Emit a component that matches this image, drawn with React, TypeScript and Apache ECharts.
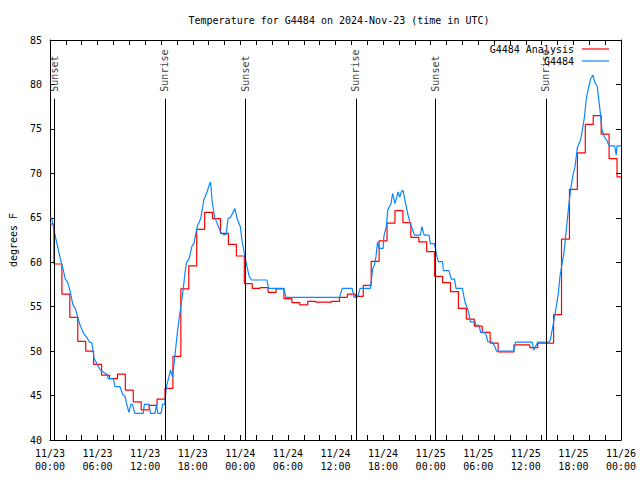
import React, { useEffect, useRef } from 'react';
import * as echarts from 'echarts';

const dayLabels = ['11/23', '11/24', '11/25', '11/26'];
const hourLabels = ['00:00', '06:00', '12:00', '18:00'];

// Hourly analysis values (hour 0 .. 72)
const analysisValues = [
  64.3, 59.8, 56.4, 53.8, 51.1, 50.0, 48.5, 47.3, 46.9, 47.4,
  45.6, 44.3, 43.4, 43.9, 44.6, 45.8, 49.4, 57.0, 59.6, 63.7,
  65.6, 64.9, 63.25, 62.0, 60.7, 57.6, 57.05, 57.15, 56.6, 57.0,
  55.9, 55.45, 55.2, 55.6, 55.5, 55.5, 55.6, 56.05, 56.4, 56.15,
  57.4, 60.1, 62.4, 64.4, 65.8, 64.45, 62.8, 62.3, 61.2, 58.4,
  57.7, 56.7, 54.8, 53.6, 52.8, 52.1, 50.9, 49.9, 49.9, 50.7,
  50.7, 50.4, 50.9, 50.9, 54.1, 62.6, 68.2, 72.3, 75.5, 76.5,
  74.4, 71.65, 69.6,
];

// Observations: hours since 11/23 00:00 and temperature
const obsHours = [
  0, 0.2, 0.54, 0.88, 1.3, 1.63, 1.92, 2.2, 2.55, 2.89,
  3.18, 3.47, 3.8, 4.22, 4.64, 5.0, 5.27, 5.56, 5.9, 6.31,
  6.8, 7.15, 7.36, 7.99, 8.2, 8.82, 9.2, 9.45, 9.66, 9.95,
  10.2, 10.4, 10.7, 11.75, 11.9, 12.5, 12.67, 13.25, 13.42, 13.6,
  14.0, 14.2, 14.45, 14.68, 15.0, 15.2, 15.43, 15.6, 15.85, 16.05,
  16.3, 16.5, 16.76, 17.0, 17.2, 17.5, 17.7, 17.9, 18.15, 18.35,
  18.6, 19.0, 19.4, 19.8, 20.15, 20.25, 20.45, 20.75, 21.07, 21.5,
  21.9, 22.2, 22.45, 22.8, 23.3, 23.6, 24.0, 24.2, 24.55, 24.84,
  25.1, 25.4, 27.35, 27.56, 29.5, 29.75, 36.5, 36.85, 38.1, 38.35,
  38.8, 39.1, 40.4, 40.7, 40.9, 41.1, 41.3, 41.5, 42.0, 42.1,
  42.4, 42.6, 43.0, 43.2, 43.5, 43.9, 44.1, 44.3, 44.5, 44.8,
  45.1, 45.4, 45.75, 45.95, 46.7, 46.9, 47.1, 47.2, 47.8, 47.95,
  48.45, 48.6, 48.8, 48.95, 49.5, 49.6, 50.3, 50.6, 51.0, 51.2,
  52.0, 52.2, 52.4, 52.65, 52.85, 53.0, 53.6, 53.7, 54.1, 54.3,
  54.8, 55.0, 55.2, 55.8, 56.1, 56.3, 58.5, 58.7, 60.8, 61.0,
  61.2, 61.5, 62.9, 63.1, 63.4, 63.7, 64.1, 64.3, 64.8, 65.1,
  65.4, 65.7, 65.95, 66.2, 66.5, 66.9, 67.2, 67.4, 67.6, 67.9,
  68.2, 68.45, 68.7, 69.0, 69.4, 69.6, 69.9, 70.2, 70.5, 71.2,
  71.4, 71.5, 72.0,
];
const obsValues = [
  65.05, 65.0, 63.4, 62.1, 60.4, 59.3, 58.1, 57.8, 56.7, 55.2,
  54.8, 53.9, 52.9, 52.0, 51.55, 51.0, 50.95, 49.2, 48.6, 47.9,
  47.6, 47.4, 46.9, 46.9, 46.0, 46.0, 45.1, 44.95, 44.1, 43.1,
  44.0, 44.0, 43.0, 43.0, 44.0, 44.0, 43.0, 43.0, 44.0, 43.0,
  43.0, 44.0, 44.0, 46.0, 47.1, 47.9, 47.1, 48.2, 50.3, 52.0,
  53.8, 55.0, 56.7, 58.6, 59.95, 60.3, 61.0, 61.8, 62.1, 63.1,
  64.1, 64.9, 67.0, 67.9, 68.9, 69.0, 66.8, 65.1, 64.4, 63.4,
  63.1, 63.1, 64.9, 65.1, 66.05, 64.9, 64.0, 62.5, 60.8, 59.5,
  58.45, 58.0, 58.0, 57.05, 57.05, 56.05, 56.05, 57.05, 57.05, 56.05,
  56.1, 57.05, 57.05, 59.3, 59.7, 60.6, 62.3, 61.55, 61.55, 62.9,
  64.0, 65.9, 66.6, 67.75, 66.6, 67.9, 67.3, 67.9, 68.1, 66.8,
  65.5, 64.4, 63.6, 63.05, 63.05, 64.0, 63.3, 63.05, 63.05, 62.1,
  62.1, 61.55, 60.6, 60.06, 60.06, 59.05, 59.05, 58.1, 58.1, 57.05,
  57.05, 56.1, 55.3, 54.8, 54.06, 53.3, 53.3, 52.9, 52.9, 52.07,
  52.07, 51.8, 51.06, 51.0, 50.5, 50.0, 50.0, 51.0, 51.0, 50.1,
  50.5, 51.0, 51.0, 51.3, 52.75, 54.25, 56.5, 58.4, 61.0, 63.6,
  66.25, 68.5, 69.8, 70.75, 72.9, 73.75, 75.25, 76.4, 78.25, 79.6,
  80.7, 81.06, 80.2, 79.8, 76.75, 74.9, 74.1, 73.75, 73.1, 73.1,
  72.06, 73.1, 73.1,
];

const eventHours = [0.54, 14.47, 24.63, 38.56, 48.6, 62.52];
const eventNames = ['Sunset', 'Sunrise', 'Sunset', 'Sunrise', 'Sunset', 'Sunrise'];

const FONT = 'DejaVu Sans Mono, Liberation Mono, monospace';
const RED = '#ff0000';
const BLUE = '#0a88ff';

export default function App() {
  const ref = useRef<HTMLDivElement>(null);
  useEffect(() => {
    document.body.style.margin = '0';
    const chart = echarts.init(ref.current!, null, { renderer: 'svg' });
    const lineTop = 78.4;
    const axisCommonX = {
      type: 'value',
      min: 0,
      max: 72,
      interval: 2,
      axisLine: { show: true, onZero: false, lineStyle: { color: '#000', width: 1 } },
      axisTick: { show: true, inside: true, length: 5, lineStyle: { color: '#000' } },
      splitLine: { show: false },
    };
    const axisCommonY = {
      type: 'value',
      min: 40,
      max: 85,
      interval: 5,
      axisLine: { show: true, onZero: false, lineStyle: { color: '#000', width: 1 } },
      axisTick: { show: true, inside: true, length: 5, lineStyle: { color: '#000' } },
      splitLine: { show: false },
    };
    const option: any = {
      animation: false,
      backgroundColor: '#ffffff',
      textStyle: { fontFamily: FONT },
      title: {
        text: 'Temperature for G4484 on 2024-Nov-23 (time in UTC)',
        left: 334,
        top: 10,
        textAlign: 'center',
        textStyle: { fontSize: 10, fontWeight: 'normal', color: '#000', fontFamily: FONT },
      },
      legend: {
        data: ['G4484 Analysis', 'G4484'],
        orient: 'vertical',
        right: 31,
        top: 44,
        padding: 0,
        align: 'right',
        icon: 'rect',
        itemWidth: 27,
        itemHeight: 1.2,
        itemGap: 2,
        textStyle: { fontSize: 10, fontFamily: FONT, color: '#000', padding: [0, 3, 0, 0] },
      },
      grid: { left: 47, right: 19, top: 40, bottom: 40 },
      xAxis: [
        {
          ...axisCommonX,
          position: 'bottom',
          axisLabel: {
            show: true,
            margin: 7,
            fontSize: 10,
            lineHeight: 13,
            color: '#000',
            fontFamily: FONT,
            formatter: (v: number) =>
              v % 6 === 0 ? `${dayLabels[Math.floor(v / 24)]}\n${hourLabels[(v % 24) / 6]}` : '',
          },
        },
        { ...axisCommonX, position: 'top', axisLabel: { show: false } },
      ],
      yAxis: [
        {
          ...axisCommonY,
          position: 'left',
          name: 'degrees F',
          nameLocation: 'middle',
          nameGap: 32,
          nameRotate: 90,
          nameTextStyle: { fontSize: 10, fontFamily: FONT, color: '#000' },
          axisLabel: { show: true, margin: 8, fontSize: 10, color: '#000', fontFamily: FONT },
        },
        { ...axisCommonY, position: 'right', axisLabel: { show: false } },
      ],
      series: [
        {
          name: 'G4484 Analysis',
          type: 'line',
          xAxisIndex: 0,
          yAxisIndex: 0,
          data: analysisValues.map((v, i) => [i, v]),
          step: 'middle',
          symbol: 'none',
          lineStyle: { color: RED, width: 1.2 },
          itemStyle: { color: RED },
          z: 2,
        },
        {
          name: 'G4484',
          type: 'line',
          xAxisIndex: 0,
          yAxisIndex: 0,
          data: obsHours.map((t, i) => [t, obsValues[i]]),
          symbol: 'none',
          lineStyle: { color: BLUE, width: 1.2 },
          itemStyle: { color: BLUE },
          z: 3,
        },
        {
          name: 'events',
          type: 'scatter',
          xAxisIndex: 0,
          yAxisIndex: 0,
          silent: true,
          symbolSize: 0,
          data: eventHours.map((t, i) => ({ value: [t, lineTop], name: eventNames[i] })),
          label: {
            show: true,
            formatter: '{b}',
            position: 'top',
            distance: 7,
            rotate: 90,
            align: 'left',
            verticalAlign: 'middle',
            fontSize: 10,
            fontFamily: FONT,
            color: '#000',
          },
          markLine: {
            silent: true,
            symbol: 'none',
            label: { show: false },
            lineStyle: { color: '#000', width: 1, type: 'solid' },
            data: eventHours.map((t) => [{ coord: [t, 40] }, { coord: [t, lineTop] }]),
          },
          z: 4,
        },
      ],
    };
    chart.setOption(option);
    return () => chart.dispose();
  }, []);
  return <div ref={ref} style={{ width: 640, height: 480 }} />;
}
